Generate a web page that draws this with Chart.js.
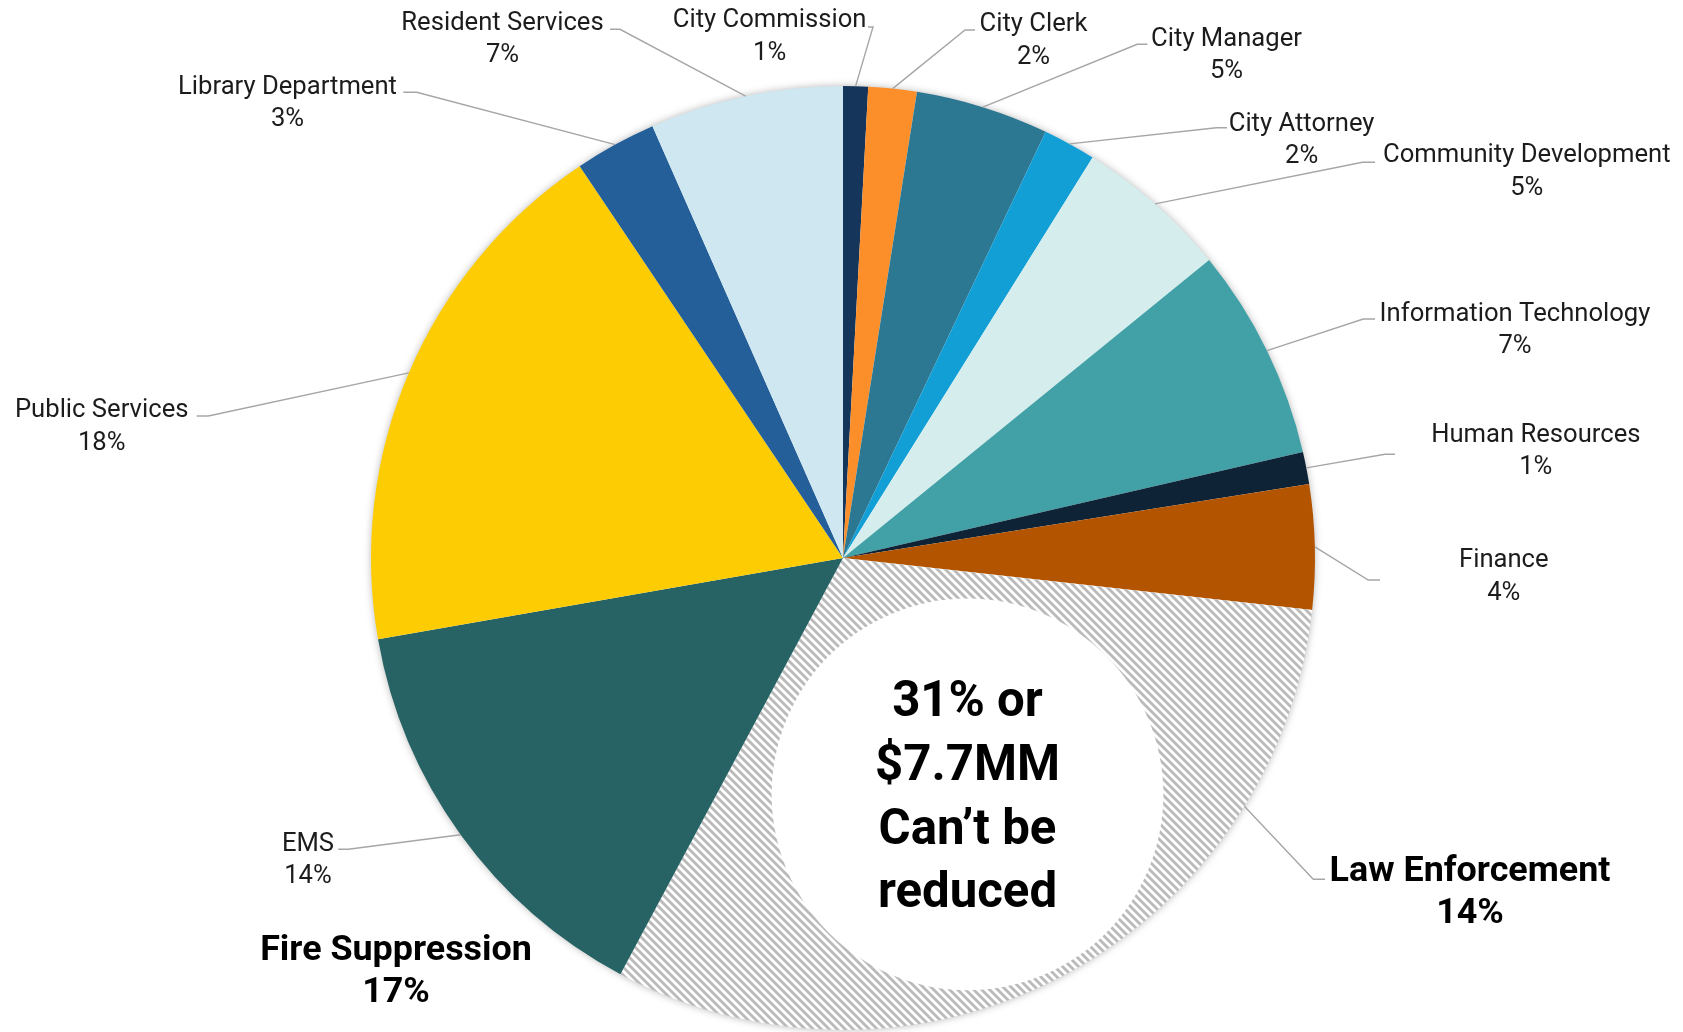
<!DOCTYPE html>
<html>
<head>
<meta charset="utf-8">
<title>General fund by department</title>
<script src="https://cdn.jsdelivr.net/npm/chart.js@4.4.0/dist/chart.umd.min.js"></script>
<style>
  html, body { margin: 0; padding: 0; background: #fff; }
  #wrap { width: 1683px; height: 1032px; position: relative; }
</style>
</head>
<body>
<div id="wrap"><canvas id="budget-pie"></canvas></div>
<script>
// departments, clockwise from 12 o'clock
const departments = [
  'City Commission', 'City Clerk', 'City Manager', 'City Attorney',
  'Community Development', 'Information Technology', 'Human Resources',
  'Finance', 'Law Enforcement', 'Fire Suppression', 'EMS',
  'Public Services', 'Library Department', 'Resident Services',
];
// share of budget (%)
const shares = [0.85, 1.65, 4.55, 1.8, 5.25, 7.25, 1.1, 4.25, 14.1, 16.9, 14.4, 18.3, 2.8, 6.6];
// the two slices that cannot be cut
const fixedCost = ['Law Enforcement', 'Fire Suppression'];
const calloutLines = ['31% or', '$7.7MM', 'Can\u2019t be', 'reduced'];

const sliceColors = [
  '#15365a', '#fd8f2a', '#2c7893', '#129fd6', '#d5eded', '#42a1a7', '#0e2335',
  '#b35400', null, null, '#276364', '#fdcc03', '#245f99', '#cfe7f0',
];

// label placement: text centre, leader end x, elbow x, leader y (null = no leader)
const labelLayout = [
  [769.6, 18.2, 868, 873, 27],
  [1033.5, 22.5, 975, 965, 30],
  [1226.5, 36.7, 1147.4, 1137.2, 44.3],
  [1301.6, 121.7, 1227, 1216.4, 127.7],
  [1526.8, 153.3, 1375, 1362.5, 162.3],
  [1515, 311.7, 1375, 1363.3, 319],
  [1535.8, 432.7, 1395, 1385, 454.3],
  [1503.8, 558.3, 1380, 1368.3, 580],
  [1470, 869.3, 1325, 1313.3, 879.3],
  [396, 948.3, null, null, null],
  [308, 841.7, 338.3, 348.3, 849.3],
  [101.7, 408.3, 196.7, 208.3, 416],
  [287.5, 85, 403.3, 416.7, 92.3],
  [502.5, 20.7, 610, 620, 29.3],
];

const FONT = 'Roboto, "Open Sans", sans-serif';

// grey diagonal hatch like Excel's wide downward diagonal
function makeHatch() {
  const p = 8;
  const c = document.createElement('canvas');
  c.width = p; c.height = p;
  const g = c.getContext('2d');
  g.fillStyle = '#fff';
  g.fillRect(0, 0, p, p);
  g.strokeStyle = '#bababa';
  g.lineWidth = 2.8;
  for (let k = -1; k <= 1; k++) {
    g.beginPath();
    g.moveTo(-1 + k * p, -1);
    g.lineTo(p + 1 + k * p, p + 1);
    g.stroke();
  }
  return g.createPattern(c, 'repeat');
}

const hatch = makeHatch();
const fills = departments.map((d, i) => fixedCost.includes(d) ? hatch : sliceColors[i]);
const total = shares.reduce((a, b) => a + b, 0);

function fitSize(ctx, text, weight, width) {
  ctx.font = `${weight} 100px ${FONT}`;
  return 100 * width / ctx.measureText(text).width;
}

const pieShadow = {
  id: 'pieShadow',
  beforeDatasetsDraw(chart) {
    const arc = chart.getDatasetMeta(0).data[0];
    if (!arc) return;
    const ctx = chart.ctx;
    ctx.save();
    ctx.shadowColor = 'rgba(0,0,0,0.35)';
    ctx.shadowBlur = 9;
    ctx.fillStyle = '#fff';
    ctx.beginPath();
    ctx.arc(arc.x, arc.y, arc.outerRadius - 1, 0, Math.PI * 2);
    ctx.fill();
    ctx.restore();
  },
};

const labels = {
  id: 'outsideLabels',
  afterDatasetsDraw(chart) {
    const ctx = chart.ctx;
    const arcs = chart.getDatasetMeta(0).data;
    const regular = fitSize(ctx, 'Information Technology', 400, 271);
    const bold = fitSize(ctx, 'Law Enforcement', 700, 281);
    const big = fitSize(ctx, '$7.7MM', 700, 185);

    // white disc with the note over the fixed-cost slices
    const a0 = arcs[departments.indexOf(fixedCost[0])];
    const a1 = arcs[departments.indexOf(fixedCost[1])];
    const mid = (a0.startAngle + a1.endAngle) / 2;
    const R = a0.outerRadius;
    const cx = a0.x + Math.cos(mid) * R * 0.566;
    const cy = a0.y + Math.sin(mid) * R * 0.566;
    ctx.save();
    ctx.fillStyle = '#fff';
    ctx.beginPath();
    ctx.arc(cx, cy, R * 0.415, 0, Math.PI * 2);
    ctx.fill();
    ctx.fillStyle = '#000';
    ctx.textAlign = 'center';
    ctx.textBaseline = 'middle';
    ctx.font = `700 ${big}px ${FONT}`;
    const step = 63.7;
    calloutLines.forEach((t, i) => {
      ctx.fillText(t, cx, cy + 5 + (i - (calloutLines.length - 1) / 2) * step);
    });
    ctx.restore();

    arcs.forEach((arc, i) => {
      const [tx, ty, endX, elbowX, ly] = labelLayout[i];
      const m = (arc.startAngle + arc.endAngle) / 2;
      const ex = arc.x + Math.cos(m) * arc.outerRadius;
      const ey = arc.y + Math.sin(m) * arc.outerRadius;
      ctx.save();
      if (endX !== null) {
        ctx.strokeStyle = '#a6a6a6';
        ctx.lineWidth = 1.4;
        ctx.beginPath();
        ctx.moveTo(ex, ey);
        ctx.lineTo(elbowX, ly);
        ctx.lineTo(endX, ly);
        ctx.stroke();
      }
      const isBold = fixedCost.includes(departments[i]);
      const size = isBold ? bold : regular;
      ctx.font = `${isBold ? 700 : 400} ${size}px ${FONT}`;
      ctx.fillStyle = isBold ? '#000' : '#1c1c1c';
      ctx.textAlign = 'center';
      ctx.textBaseline = 'middle';
      const y0 = ty + 2.5;
      ctx.fillText(departments[i], tx, y0);
      ctx.fillText(Math.round(shares[i] / total * 100) + '%', tx, y0 + (isBold ? 42 : 32.5));
      ctx.restore();
    });
  },
};

new Chart(document.getElementById('budget-pie'), {
  type: 'pie',
  data: {
    labels: departments,
    datasets: [{
      data: shares,
      backgroundColor: fills,
      borderWidth: 0,
    }],
  },
  options: {
    responsive: true,
    maintainAspectRatio: false,
    animation: false,
    layout: { padding: { top: 86, bottom: 2, left: 371, right: 368 } },
    plugins: {
      legend: { display: false },
      tooltip: { enabled: false },
    },
  },
  plugins: [pieShadow, labels],
});
</script>
</body>
</html>
